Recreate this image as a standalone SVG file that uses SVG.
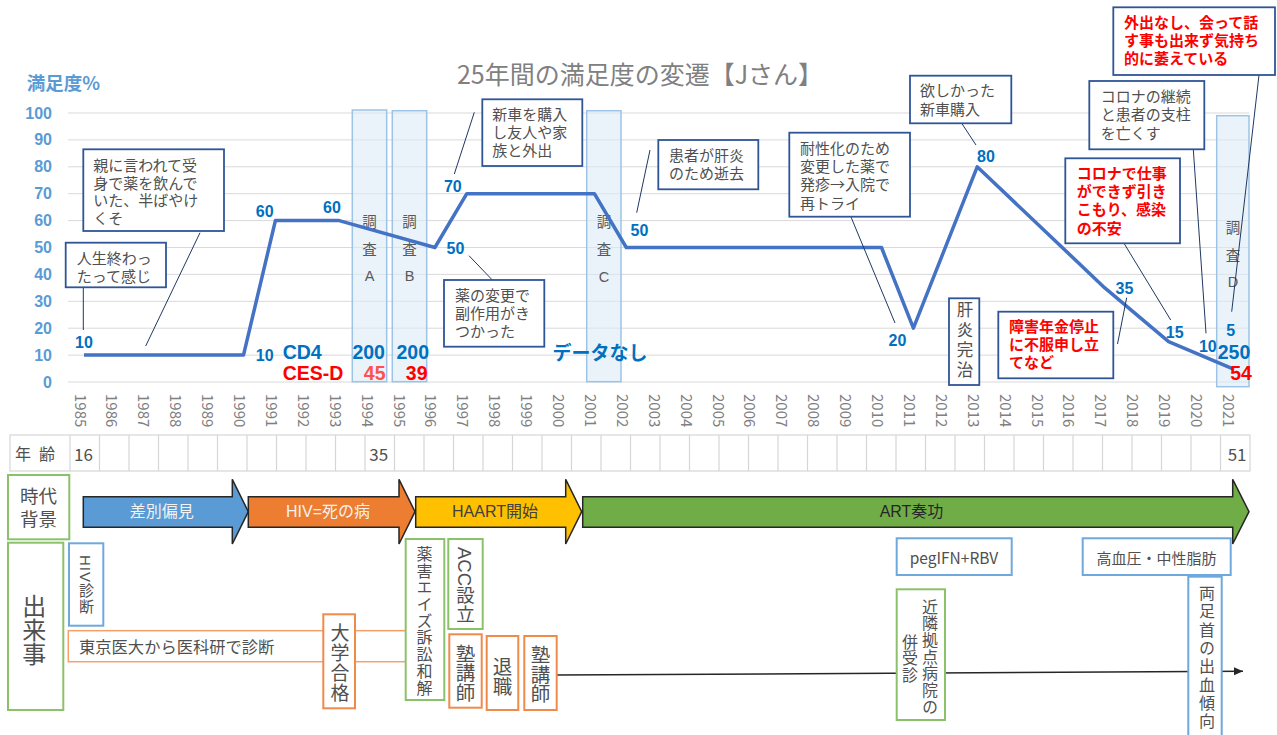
<svg xmlns="http://www.w3.org/2000/svg" width="1277" height="735" viewBox="0 0 1277 735">
<defs>
<style>
.grid{stroke:#D9D9D9;stroke-width:1;fill:none}
.ylab{font-family:"Liberation Sans",Arial,sans-serif;font-weight:bold;font-size:16px;fill:#5B9BD5;text-anchor:end;dominant-baseline:central}
.dl{font-family:"Liberation Sans",Arial,sans-serif;font-weight:bold;font-size:16px;fill:#0070C0;text-anchor:middle;dominant-baseline:central}
.dlb{font-family:"Liberation Sans",Arial,sans-serif;font-weight:bold;font-size:19.5px;fill:#0070C0;dominant-baseline:central}
.red{fill:#FF0000}
.survey{fill:#DEEBF7;fill-opacity:.6;stroke:#9DC3E6;stroke-width:1.5}
.st{font-family:"Liberation Sans","Noto Sans CJK JP",sans-serif;font-size:14.5px;fill:#595959;text-anchor:middle;dominant-baseline:central}
.co{fill:#fff;stroke:#2F5597;stroke-width:1.8}
.ct{font-family:"Noto Sans CJK JP",sans-serif;font-size:15px;fill:#505050;dominant-baseline:central}
.rt{font-family:"Noto Sans CJK JP",sans-serif;font-size:15px;fill:#FF0000;font-weight:bold;dominant-baseline:central}
.lead{stroke:#1F3864;stroke-width:1;fill:none}
.year{font-family:"Noto Sans CJK JP",sans-serif;font-size:15px;fill:#808080;dominant-baseline:central}
.tbl{stroke:#D6D6D6;stroke-width:1.2;fill:none}
.arr{stroke:#262626;stroke-width:1.5;stroke-linejoin:miter}
.at{font-family:"Liberation Sans","Noto Sans CJK JP",sans-serif;font-size:16px;text-anchor:middle;dominant-baseline:central}
.bg{fill:#fff;stroke:#8CC16C;stroke-width:2}
.bb{fill:#fff;stroke:#6FA8DC;stroke-width:2}
.bo{fill:#fff;stroke:#F08A4B;stroke-width:2}
.vt{font-family:"Liberation Sans","Noto Sans CJK JP",sans-serif;fill:#505050;writing-mode:vertical-rl;text-anchor:middle}
.bt{font-family:"Noto Sans CJK JP",sans-serif;fill:#505050;dominant-baseline:central}
</style>
<marker id="ah" markerWidth="10" markerHeight="10" refX="9" refY="5" orient="auto" markerUnits="userSpaceOnUse"><path d="M0,1 L9,5 L0,9 z" fill="#262626"/></marker>
</defs>
<rect width="1277" height="735" fill="#fff"/>

<g id="chart-title">
<text x="640" y="73" font-family="Noto Sans CJK JP, sans-serif" font-size="25" fill="#808080" text-anchor="middle" dominant-baseline="central">25年間の満足度の変遷【Jさん】</text>
<text x="26.7" y="82.3" font-family="Noto Sans CJK JP, sans-serif" font-size="18.5" font-weight="bold" fill="#5B9BD5" dominant-baseline="central">満足度%</text>
</g>

<g id="gridlines">
<path class="grid" d="M68 382H1249M68 355.1H1249M68 328.2H1249M68 301.3H1249M68 274.4H1249M68 247.5H1249M68 220.6H1249M68 193.7H1249M68 166.8H1249M68 139.9H1249M68 113H1249"/>
</g>
<g id="y-axis">
<text class="ylab" x="52" y="382">0</text>
<text class="ylab" x="52" y="355.1">10</text>
<text class="ylab" x="52" y="328.2">20</text>
<text class="ylab" x="52" y="301.3">30</text>
<text class="ylab" x="52" y="274.4">40</text>
<text class="ylab" x="52" y="247.5">50</text>
<text class="ylab" x="52" y="220.6">60</text>
<text class="ylab" x="52" y="193.7">70</text>
<text class="ylab" x="52" y="166.8">80</text>
<text class="ylab" x="52" y="139.9">90</text>
<text class="ylab" x="52" y="113">100</text>
</g>

<g id="survey-A"><rect class="survey" x="352.3" y="110" width="34.4" height="271.7"/><text class="st" x="369.5"><tspan x="369.5" y="222">調</tspan><tspan x="369.5" y="249.5">査</tspan><tspan x="369.5" y="276">A</tspan></text></g>
<g id="survey-B"><rect class="survey" x="392.3" y="110.7" width="34.4" height="271"/><text class="st" x="409.5"><tspan x="409.5" y="222">調</tspan><tspan x="409.5" y="249.5">査</tspan><tspan x="409.5" y="276">B</tspan></text></g>
<g id="survey-C"><rect class="survey" x="586.7" y="110.7" width="34.3" height="271"/><text class="st" x="604"><tspan x="604" y="222">調</tspan><tspan x="604" y="250">査</tspan><tspan x="604" y="277">C</tspan></text></g>
<g id="survey-D"><rect class="survey" x="1216.7" y="115.7" width="32.3" height="271"/><text class="st" x="1233"><tspan x="1233" y="227.7">調</tspan><tspan x="1233" y="255.7">査</tspan><tspan x="1233" y="281.7">D</tspan></text></g>

<g id="satisfaction-line">
<polyline fill="none" stroke="#4472C4" stroke-width="3.5" stroke-linejoin="round" points="84,355.1 243.5,355.1 275.4,220.6 339.2,220.6 434.9,247.5 466.8,193.7 594.4,193.7 626.3,247.5 881.5,247.5 913.4,328.2 977.2,166.8 1104.8,287.9 1168.6,341.7 1232.4,368.6"/>
</g>

<g id="data-labels">
<text class="dl" x="84" y="342">10</text>
<text class="dl" x="264.7" y="355.5">10</text>
<text class="dl" x="264.7" y="211">60</text>
<text class="dl" x="332" y="207">60</text>
<text class="dl" x="455.5" y="248">50</text>
<text class="dl" x="452.8" y="186">70</text>
<text class="dl" x="639.5" y="230">50</text>
<text class="dl" x="897.5" y="340">20</text>
<text class="dl" x="986" y="156">80</text>
<text class="dl" x="1124.5" y="288">35</text>
<text class="dl" x="1174.7" y="332">15</text>
<text class="dl" x="1207.8" y="346.3">10</text>
<text class="dl" x="1230.8" y="330">5</text>
</g>

<g id="cd4-cesd">
<text class="dlb" x="282.7" y="352">CD4</text>
<text class="dlb red" x="282.7" y="373">CES-D</text>
<text class="dlb" x="368.7" y="352" text-anchor="middle">200</text>
<text class="dlb" x="412.8" y="352" text-anchor="middle">200</text>
<text class="dlb" x="374.7" y="373" text-anchor="middle" style="fill:#FF5050">45</text>
<text class="dlb red" x="416.7" y="373" text-anchor="middle">39</text>
<text class="dlb" x="600" y="351.5" text-anchor="middle" style="font-family:'Noto Sans CJK JP',sans-serif;font-size:19px">データなし</text>
<text class="dlb" x="1234" y="351.7" text-anchor="middle">250</text>
<text class="dlb red" x="1241" y="373" text-anchor="middle">54</text>
</g>

<g id="connectors">
<path class="lead" d="M83.3 287.3V330"/>
<path class="lead" d="M200 232.7L145.7 346"/>
<path class="lead" d="M474.3 112.3L454.3 174"/>
<path class="lead" d="M469 255.7L492.3 280"/>
<path class="lead" d="M650 150L636.7 212.7"/>
<path class="lead" d="M851 217L895 323"/>
<path class="lead" d="M961.7 123.3L976 145"/>
<path class="lead" d="M1193.3 149.3L1206 333.3"/>
<path class="lead" d="M1124 243.3L1170.7 320"/>
<path class="lead" d="M1259 75L1231.7 311.7"/>
<path class="lead" d="M1117.5 344L1126.7 297.7"/>
<path d="M556.7 675L1243 671.3" stroke="#262626" stroke-width="1.5" fill="none" marker-end="url(#ah)"/>
</g>

<g id="callout-1"><rect class="co" x="65.7" y="242.7" width="100.3" height="44.6"/><text class="ct"><tspan x="76.7" y="256.7">人生終わっ</tspan><tspan x="76.7" y="275">たって感じ</tspan></text></g>
<g id="callout-2"><rect class="co" x="83.3" y="149.3" width="140.7" height="81.7"/><text class="ct"><tspan x="93.3" y="164">親に言われて受</tspan><tspan x="93.3" y="181.7">身で薬を飲んで</tspan><tspan x="93.3" y="199.3">いた、半ばやけ</tspan><tspan x="93.3" y="216.8">くそ</tspan></text></g>
<g id="callout-3"><rect class="co" x="482.3" y="99.3" width="100" height="66.7"/><text class="ct"><tspan x="492.3" y="113.3">新車を購入</tspan><tspan x="492.3" y="131.2">し友人や家</tspan><tspan x="492.3" y="149">族と外出</tspan></text></g>
<g id="callout-4"><rect class="co" x="444" y="280" width="100.3" height="66.7"/><text class="ct"><tspan x="455" y="293.5">薬の変更で</tspan><tspan x="455" y="311.7">副作用がき</tspan><tspan x="455" y="330">つかった</tspan></text></g>
<g id="callout-5"><rect class="co" x="658.3" y="140" width="100" height="49.3"/><text class="ct"><tspan x="669" y="153.5">患者が肝炎</tspan><tspan x="669" y="172.3">のため逝去</tspan></text></g>
<g id="callout-6"><rect class="co" x="789.3" y="132.7" width="120.7" height="84"/><text class="ct"><tspan x="800" y="146.7">耐性化のため</tspan><tspan x="800" y="165">変更した薬で</tspan><tspan x="800" y="183.3">発疹→入院で</tspan><tspan x="800" y="201.7">再トライ</tspan></text></g>
<g id="callout-7"><rect class="co" x="910" y="75.7" width="101.3" height="47.6"/><text class="ct"><tspan x="920" y="89.3">欲しかった</tspan><tspan x="920" y="107.7">新車購入</tspan></text></g>
<g id="callout-8"><rect class="co" x="1089.3" y="81" width="115" height="68.3"/><text class="ct"><tspan x="1100.7" y="94.5">コロナの継続</tspan><tspan x="1100.7" y="113.3">と患者の支柱</tspan><tspan x="1100.7" y="131.7">を亡くす</tspan></text></g>
<g id="callout-9"><rect class="co" x="1065.3" y="158.3" width="114.7" height="85"/><text class="rt"><tspan x="1076.7" y="171.7">コロナで仕事</tspan><tspan x="1076.7" y="190">ができず引き</tspan><tspan x="1076.7" y="208.3">こもり、感染</tspan><tspan x="1076.7" y="226.7">の不安</tspan></text></g>
<g id="callout-10"><rect class="co" x="1113.3" y="7.3" width="161.7" height="67.7"/><text class="rt"><tspan x="1124" y="20.7">外出なし、会って話</tspan><tspan x="1124" y="39">す事も出来ず気持ち</tspan><tspan x="1124" y="57.3">的に萎えている</tspan></text></g>
<g id="callout-11"><rect class="co" x="998.3" y="311.7" width="115" height="66.6"/><text class="rt"><tspan x="1009" y="325">障害年金停止</tspan><tspan x="1009" y="343.3">に不服申し立</tspan><tspan x="1009" y="361">てなど</tspan></text></g>
<g id="callout-12"><rect class="co" x="949" y="298.3" width="30.3" height="86.7"/><text class="vt" x="964" y="341.7" font-size="16.5" letter-spacing="3.5" style="fill:#505050">肝炎完治</text></g>

<g id="x-axis-years">
<text class="year" transform="translate(81,394) rotate(90)">1985</text>
<text class="year" transform="translate(112.9,394) rotate(90)">1986</text>
<text class="year" transform="translate(144.8,394) rotate(90)">1987</text>
<text class="year" transform="translate(176.7,394) rotate(90)">1988</text>
<text class="year" transform="translate(208.6,394) rotate(90)">1989</text>
<text class="year" transform="translate(240.5,394) rotate(90)">1990</text>
<text class="year" transform="translate(272.4,394) rotate(90)">1991</text>
<text class="year" transform="translate(304.3,394) rotate(90)">1992</text>
<text class="year" transform="translate(336.2,394) rotate(90)">1993</text>
<text class="year" transform="translate(368.1,394) rotate(90)">1994</text>
<text class="year" transform="translate(400,394) rotate(90)">1995</text>
<text class="year" transform="translate(431.9,394) rotate(90)">1996</text>
<text class="year" transform="translate(463.8,394) rotate(90)">1997</text>
<text class="year" transform="translate(495.7,394) rotate(90)">1998</text>
<text class="year" transform="translate(527.6,394) rotate(90)">1999</text>
<text class="year" transform="translate(559.5,394) rotate(90)">2000</text>
<text class="year" transform="translate(591.4,394) rotate(90)">2001</text>
<text class="year" transform="translate(623.3,394) rotate(90)">2002</text>
<text class="year" transform="translate(655.2,394) rotate(90)">2003</text>
<text class="year" transform="translate(687.1,394) rotate(90)">2004</text>
<text class="year" transform="translate(719,394) rotate(90)">2005</text>
<text class="year" transform="translate(750.9,394) rotate(90)">2006</text>
<text class="year" transform="translate(782.8,394) rotate(90)">2007</text>
<text class="year" transform="translate(814.7,394) rotate(90)">2008</text>
<text class="year" transform="translate(846.6,394) rotate(90)">2009</text>
<text class="year" transform="translate(878.5,394) rotate(90)">2010</text>
<text class="year" transform="translate(910.4,394) rotate(90)">2011</text>
<text class="year" transform="translate(942.3,394) rotate(90)">2012</text>
<text class="year" transform="translate(974.2,394) rotate(90)">2013</text>
<text class="year" transform="translate(1006.1,394) rotate(90)">2014</text>
<text class="year" transform="translate(1038,394) rotate(90)">2015</text>
<text class="year" transform="translate(1069.9,394) rotate(90)">2016</text>
<text class="year" transform="translate(1101.8,394) rotate(90)">2017</text>
<text class="year" transform="translate(1133.7,394) rotate(90)">2018</text>
<text class="year" transform="translate(1165.6,394) rotate(90)">2019</text>
<text class="year" transform="translate(1197.5,394) rotate(90)">2020</text>
<text class="year" transform="translate(1229.4,394) rotate(90)">2021</text>
</g>

<g id="age-table">
<rect class="tbl" x="10" y="435" width="1240" height="36"/>
<path class="tbl" d="M70 435V471M99.5 435V471M129 435V471M158.5 435V471M188 435V471M217.5 435V471M247 435V471M276.5 435V471M306 435V471M335.5 435V471M365 435V471M394.5 435V471M424 435V471M453.5 435V471M483 435V471M512.5 435V471M542 435V471M571.5 435V471M601 435V471M630.5 435V471M660 435V471M689.5 435V471M719 435V471M748.5 435V471M778 435V471M807.5 435V471M837 435V471M866.5 435V471M896 435V471M925.5 435V471M955 435V471M984.5 435V471M1014 435V471M1043.5 435V471M1073 435V471M1102.5 435V471M1132 435V471M1161.5 435V471M1191 435V471M1220.5 435V471"/>
<text class="bt" x="15" y="453" font-size="16" letter-spacing="8">年齢</text>
<text class="bt" x="74" y="453" font-size="17" fill="#404040">16</text>
<text class="bt" x="369.3" y="453" font-size="17" fill="#404040">35</text>
<text class="bt" x="1227.7" y="453" font-size="17" fill="#404040">51</text>
</g>

<g id="era-label"><rect class="bg" x="8" y="475" width="61.3" height="64.3"/><text class="bt" font-size="18.5" text-anchor="middle"><tspan x="38.5" y="495">時代</tspan><tspan x="38.5" y="518.3">背景</tspan></text></g>
<g id="era-1"><path class="arr" fill="#5B9BD5" d="M83.3 496.7H232.3V479.3L248.3 511.7L232.3 544V527.3H83.3Z"/><text class="at" x="161.7" y="511.7" fill="#F2F2F2">差別偏見</text></g>
<g id="era-2"><path class="arr" fill="#ED7D31" d="M248.3 496.7H399V479.3L415 511.7L399 544V527.3H248.3Z"/><text class="at" x="328" y="511.7" fill="#F2F2F2">HIV=死の病</text></g>
<g id="era-3"><path class="arr" fill="#FFC000" d="M415.7 496.7H565.7V479.3L581.7 511.7L565.7 544V527.3H415.7Z"/><text class="at" x="495" y="511.7" fill="#404040">HAART開始</text></g>
<g id="era-4"><path class="arr" fill="#70AD47" d="M582.7 496.7H1232.7V479.3L1249 511.7L1232.7 544V527.3H582.7Z"/><text class="at" x="911.5" y="511.7" fill="#262626">ART奏功</text></g>

<g id="events-label"><rect class="bg" x="8" y="542.7" width="55.3" height="167.3"/><text class="vt" x="32.3" y="630" font-size="24">出来事</text></g>
<g id="ev-hiv-diagnosis"><rect class="bb" x="69" y="543.3" width="34.3" height="82.4"/><text class="vt" x="85.5" y="585" font-size="15" letter-spacing="1">HIV診断</text></g>
<g id="ev-tokyo"><rect x="68.3" y="630.7" width="338" height="31" fill="#fff" stroke="#F4A06A" stroke-width="1.5"/><text class="bt" x="79" y="646" font-size="16.3">東京医大から医科研で診断</text></g>
<g id="ev-university"><rect class="bo" x="323.3" y="614.3" width="31.7" height="94"/><text class="vt" x="338" y="663" font-size="19" letter-spacing="1">大学合格</text></g>
<g id="ev-settlement"><rect class="bg" x="405.7" y="539" width="38.6" height="161"/><text class="vt" x="423" y="621" font-size="16" letter-spacing="0.7">薬害エイズ訴訟和解</text></g>
<g id="ev-acc"><rect class="bg" x="448.3" y="539" width="34.4" height="90"/><text class="vt" x="464" y="585" font-size="18.5">ACC設立</text></g>
<g id="ev-juku-1"><rect class="bo" x="449.3" y="634.3" width="32.4" height="73.4"/><text class="vt" x="464" y="673" font-size="19.5">塾講師</text></g>
<g id="ev-retire"><rect class="bo" x="486.7" y="636" width="31.6" height="74"/><text class="vt" x="501" y="676.7" font-size="19.5">退職</text></g>
<g id="ev-juku-2"><rect class="bo" x="524.3" y="636" width="32.4" height="74"/><text class="vt" x="539" y="674.5" font-size="19.5">塾講師</text></g>
<g id="ev-peg"><rect class="bb" x="896.7" y="538.3" width="115" height="36.7"/><text class="bt" x="954" y="557" font-size="15.5" text-anchor="middle" font-family="Liberation Sans, Arial, sans-serif">pegIFN+RBV</text></g>
<g id="ev-hypertension"><rect class="bb" x="1082.7" y="538.3" width="148" height="36.7"/><text class="bt" x="1156.5" y="557" font-size="15" text-anchor="middle">高血圧・中性脂肪</text></g>
<g id="ev-nearby-hospital"><rect class="bg" x="896.7" y="589.3" width="48.3" height="130.7"/><text class="vt" x="928.5" y="657" font-size="16" letter-spacing="0.7">近隣拠点病院の</text><text class="vt" x="908.5" y="658.5" font-size="16" letter-spacing="0.7">併受診</text></g>
<g id="ev-bleeding"><rect class="bb" x="1188.3" y="576.7" width="33.4" height="170"/><text class="vt" x="1205.5" y="585" font-size="16" letter-spacing="2.3" style="text-anchor:start">両足首の出血傾向</text></g>
</svg>
